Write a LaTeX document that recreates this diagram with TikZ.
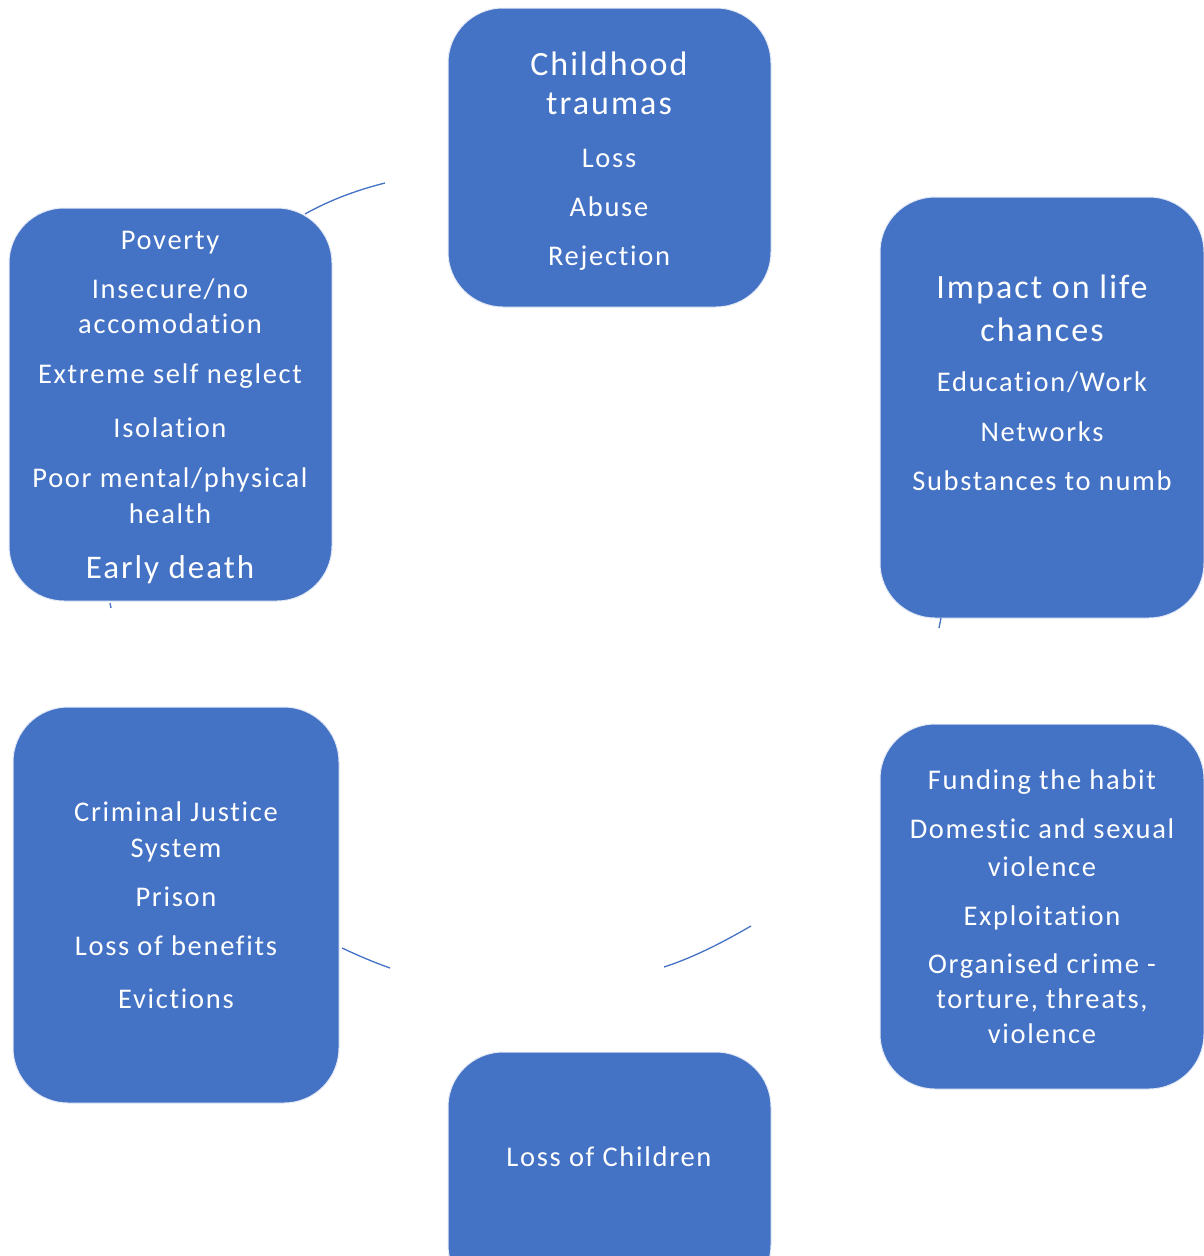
\documentclass[tikz,border=0pt]{standalone}
\usepackage{fontspec}
\setmainfont{Carlito}[LetterSpace=6.0,Ligatures={NoCommon}]
\newfontfamily\smallfam{Carlito}[LetterSpace=6.0,Ligatures={NoCommon}]
\definecolor{boxblue}{HTML}{4472C4}
\begin{document}
\begin{tikzpicture}[x=1pt,y=-1pt,
  box/.style={draw=white!85!boxblue, line width=1pt, fill=boxblue, rounded corners=55pt, inner sep=0pt},
  txt/.style={text=white, inner sep=0pt, anchor=base, font=\smallfam\fontsize{28.5}{36}\selectfont},
  big/.style={text=white, inner sep=0pt, anchor=base, font=\fontsize{34}{40}\selectfont},
  arcline/.style={draw=boxblue, line width=1.3pt}]
\useasboundingbox (0,0) rectangle (1203,1256);
% boxes
\draw[box] (448,8) rectangle (771,307);
\draw[box] (880,197) rectangle (1204,618);
\draw[box] (880,724) rectangle (1204,1089);
\draw[box] (448,1052) rectangle (771,1300);
\draw[box] (13,707) rectangle (339,1103);
\draw[box] (9,208) rectangle (332,601);
% box 1
\node[big] (t1a) at (609,75) {Childhood};
\node[big] (t1b) at (609,114) {traumas};
\node[txt] (t1c) at (609,167) {Loss};
\node[txt] (t1d) at (609,216) {Abuse};
\node[txt] (t1e) at (609,265) {Rejection};
% box 2
\node[big] (t2a) at (1042,298) {Impact on life};
\node[big] (t2b) at (1042,341) {chances};
\node[txt] (t2c) at (1042,391) {Education/Work};
\node[txt] (t2d) at (1042,441) {Networks};
\node[txt] (t2e) at (1042,490) {Substances to numb};
% box 3
\node[txt] (t3a) at (1042,789) {Funding the habit};
\node[txt] (t3b) at (1042,838) {Domestic and sexual};
\node[txt] (t3c) at (1042,876) {violence};
\node[txt] (t3d) at (1042,925) {Exploitation};
\node[txt] (t3e) at (1042,973) {Organised crime -};
\node[txt] (t3f) at (1042,1008) {torture, threats,};
\node[txt] (t3g) at (1042,1043) {violence};
% box 4
\node[txt] (t4a) at (609,1166) {Loss of Children};
% box 5
\node[txt] (t5a) at (176,821) {Criminal Justice};
\node[txt] (t5b) at (176,857) {System};
\node[txt] (t5c) at (176,906) {Prison};
\node[txt] (t5d) at (176,955) {Loss of benefits};
\node[txt] (t5e) at (176,1008) {Evictions};
% box 6
\node[txt] (t6a) at (170,249) {Poverty};
\node[txt] (t6b) at (170,298) {Insecure/no};
\node[txt] (t6c) at (170,333) {accomodation};
\node[txt] (t6d) at (170,383) {Extreme self neglect};
\node[txt] (t6e) at (170,437) {Isolation};
\node[txt] (t6f) at (170,487) {Poor mental/physical};
\node[txt] (t6g) at (170,523) {health};
\node[big, font=\fontsize{33}{40}\selectfont] (t6h) at (170,578) {Early death};
% connector arcs
\coordinate (a1s) at (305,214);
\coordinate (a1e) at (385,183);
\coordinate (a2s) at (110,603);
\coordinate (a2e) at (111,608);
\coordinate (a3s) at (941,618);
\coordinate (a3e) at (939,628);
\coordinate (a4s) at (751,926);
\coordinate (a4e) at (664,967);
\coordinate (a5s) at (390,968);
\coordinate (a5e) at (342,948);
\draw[arcline] (a1s) .. controls (330,200) and (357,190) .. (a1e);
\draw[arcline] (a2s) -- (a2e);
\draw[arcline] (a3s) -- (a3e);
\draw[arcline] (a4s) .. controls (725,941) and (695,957) .. (a4e);
\draw[arcline] (a5s) .. controls (373,962) and (357,955) .. (a5e);
\end{tikzpicture}
\end{document}
